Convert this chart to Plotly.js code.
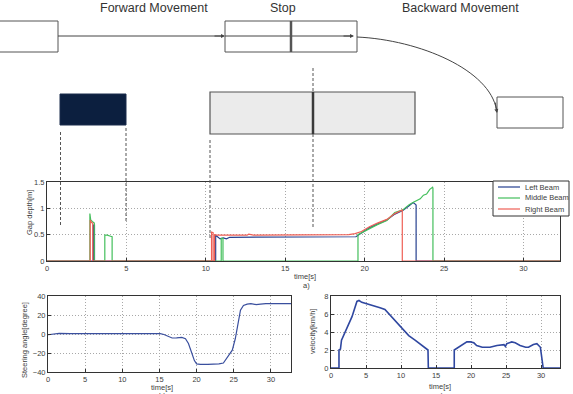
<!DOCTYPE html>
<html>
<head>
<meta charset="utf-8">
<script src="https://cdn.plot.ly/plotly-3.0.1.min.js"></script>
<style>html,body{margin:0;padding:0;background:#fff;}#chart{width:573px;height:394px;}</style>
</head>
<body>
<div id="chart"></div>
<script>
// ---- Data ----
const seriesNames = ["Left Beam", "Middle Beam", "Right Beam"];

const leftT = [0, 2.92, 2.92, 2.99, 2.99, 10.62, 10.62, 10.75, 10.9, 11.1, 11.3, 11.5, 12.5, 15.5, 18.5, 19.45, 19.8, 20.3, 20.8, 21.4, 21.9, 22.4, 22.8, 23.05, 23.22, 23.24, 23.24, 32.3];
const leftY = [0, 0, 0.68, 0.68, 0, 0, 0.49, 0.45, 0.42, 0.44, 0.42, 0.45, 0.45, 0.45, 0.45, 0.46, 0.53, 0.63, 0.70, 0.78, 0.89, 0.96, 1.05, 1.11, 1.07, 1.06, 0, 0];

const midT = [0, 2.70, 2.70, 2.75, 2.85, 2.98, 2.98, 3.64, 3.64, 3.8, 4.0, 4.1, 4.1, 10.97, 10.97, 11.08, 11.08, 19.58, 19.58, 19.9, 20.3, 20.8, 21.4, 21.9, 22.4, 22.8, 23.1, 23.5, 23.7, 23.9, 24.1, 24.28, 24.3, 24.3, 32.3];
const midY = [0, 0, 0.90, 0.78, 0.75, 0.72, 0, 0, 0.49, 0.49, 0.47, 0.46, 0, 0, 0.43, 0.43, 0, 0, 0.50, 0.55, 0.62, 0.69, 0.77, 0.92, 0.97, 1.07, 1.12, 1.18, 1.25, 1.27, 1.36, 1.40, 1.38, 0, 0];

const rightT = [0, 2.72, 2.72, 2.80, 2.88, 2.88, 10.36, 10.36, 10.46, 10.46, 10.55, 10.55, 10.7, 12.6, 12.7, 12.9, 13.0, 19.0, 19.4, 19.8, 20.3, 20.8, 21.4, 21.9, 22.37, 22.37, 32.3];
const rightY = [0, 0, 0.78, 0.73, 0.72, 0, 0, 0.55, 0.54, 0, 0, 0.50, 0.49, 0.49, 0.51, 0.50, 0.49, 0.50, 0.52, 0.56, 0.65, 0.72, 0.79, 0.90, 0.97, 0, 0];

const steerT = [0, 0.7, 1.5, 3, 6, 9, 12, 15.1, 15.6, 16.1, 16.7, 17.3, 18.0, 18.5, 18.9, 19.3, 19.7, 20.0, 20.5, 21.5, 22.3, 23.0, 23.6, 24.2, 24.8, 25.2, 25.5, 25.9, 26.3, 26.8, 27.3, 28.0, 28.6, 29.3, 30.5, 32.7];
const steerY = [-0.8, -0.3, 0.6, 0.5, 0.4, 0.4, 0.4, 0.4, -0.5, -2, -4.2, -4, -3.6, -5, -10, -19, -28, -31.5, -32, -32, -32, -31.5, -30.5, -24, -17, -5, 10, 25, 30, 31.5, 32, 31, 31.5, 32, 32, 32];

const velT = [0, 1.14, 1.14, 1.35, 1.5, 2.2, 3.0, 3.7, 4.0, 4.4, 4.9, 5.3, 6.3, 7.0, 7.7, 8.4, 9.4, 10.1, 11.1, 12.0, 13.0, 13.6, 13.85, 13.9, 17.6, 17.6, 18.0, 18.5, 18.9, 19.4, 19.9, 20.4, 20.8, 21.6, 22.7, 23.7, 24.7, 24.9, 25.1, 25.8, 26.3, 27.0, 27.8, 28.2, 28.9, 29.4, 29.9, 30.0, 30.1, 30.3, 32.7];
const velY = [0, 0, 2.0, 2.1, 3.1, 4.4, 5.7, 7.4, 7.5, 7.3, 7.2, 7.1, 6.9, 6.7, 6.5, 5.9, 5.0, 4.4, 3.6, 3.1, 2.5, 2.2, 2.0, 0, 0, 2.0, 2.2, 2.4, 2.6, 2.9, 2.9, 2.8, 2.5, 2.3, 2.3, 2.5, 2.6, 2.4, 2.7, 2.9, 2.8, 2.5, 2.3, 2.3, 2.6, 2.7, 2.3, 1.8, 0.9, 0, 0];

const phaseLabels = ["Forward Movement", "Stop", "Backward Movement"];
const gapTicks = [0, 0.5, 1, 1.5];

// ---- Layout helpers ----
const W = 573, H = 394;
const X = p => p / W;
const Y = p => 1 - p / H;
const FONT = "Liberation Sans, Arial, sans-serif";
const TXT = "#404040";
const COLORS = ["#26408f", "#44bf5c", "#ef5f55"];

function axis(d0, d1, range, dtick, anchor, extra) {
  return Object.assign({
    domain: [d0, d1], range: range, dtick: dtick, anchor: anchor,
    showline: true, mirror: true, linecolor: "#333", linewidth: 1,
    ticks: "inside", ticklen: 3, tickcolor: "#333",
    showgrid: true, gridcolor: "#a8a8a8", griddash: "1px,2px", gridwidth: 1,
    zeroline: false, fixedrange: true,
    tickfont: {family: FONT, size: 7.5, color: TXT}
  }, extra || {});
}

const traces = [
  {x: leftT, y: leftY, name: seriesNames[0], xaxis: "x", yaxis: "y", mode: "lines", line: {color: COLORS[0], width: 1.2}},
  {x: midT, y: midY, name: seriesNames[1], xaxis: "x", yaxis: "y", mode: "lines", line: {color: COLORS[1], width: 1.2}},
  {x: rightT, y: rightY, name: seriesNames[2], xaxis: "x", yaxis: "y", mode: "lines", line: {color: COLORS[2], width: 1.2}},
  {x: steerT, y: steerY, name: "Steering", xaxis: "x2", yaxis: "y2", mode: "lines", line: {color: "#3a4f9e", width: 1.2}},
  {x: velT, y: velY, name: "Velocity", xaxis: "x3", yaxis: "y3", mode: "lines", line: {color: "#2f47a0", width: 1.6}}
];

const gray = "#555";
function rect(x0, y0, x1, y1, line, fill) {
  return {type: "rect", xref: "paper", yref: "paper", x0: X(x0), x1: X(x1), y0: Y(y1), y1: Y(y0),
          line: line, fillcolor: fill || "rgba(0,0,0,0)", layer: "above"};
}
function seg(x0, y0, x1, y1, line) {
  return {type: "line", xref: "paper", yref: "paper", x0: X(x0), x1: X(x1), y0: Y(y0), y1: Y(y1), line: line, layer: "above"};
}
const dashed = {color: "#555", width: 1, dash: "3px,2px"};

const shapes = [
  rect(-2, 21, 58, 52, {color: gray, width: 1}, "#fff"),
  seg(58, 36, 222, 36, {color: "#444", width: 1}),
  rect(225, 21, 357, 52, {color: gray, width: 1}, "#fff"),
  seg(225, 36, 350, 36, {color: "#444", width: 1}),
  seg(291, 21, 291, 52, {color: "#555", width: 2.5}),
  {type: "path", xref: "paper", yref: "paper", layer: "above",
   path: `M ${X(357)},${Y(37)} C ${X(420)},${Y(40)} ${X(490)},${Y(70)} ${X(496.5)},${Y(110)}`,
   line: {color: "#444", width: 1}},
  rect(497, 97, 563, 128, {color: gray, width: 1}, "#fff"),
  rect(60, 94, 126, 125, {color: "#1a2c4c", width: 1}, "#0c1f3f"),
  rect(210, 92, 415, 134, {color: "#555", width: 1.2}, "#ebebeb"),
  seg(313, 92, 313, 134, {color: "#3a3a3a", width: 2.5}),
  seg(313, 68, 313, 92, dashed),
  seg(313, 134, 313, 228, dashed),
  seg(60.5, 132, 60.5, 225, dashed),
  seg(126, 128, 126, 222, dashed),
  seg(210, 140, 210, 240, dashed),
  // legend box
  rect(493, 181, 569, 216, {color: "#333", width: 1}, "#fff"),
  seg(498, 187, 520, 187, {color: COLORS[0], width: 1.2}),
  seg(498, 198, 520, 198, {color: COLORS[1], width: 1.2}),
  seg(498, 209, 520, 209, {color: COLORS[2], width: 1.2})
];

function txt(s, x, y, size, extra) {
  return Object.assign({text: s, x: X(x), y: Y(y), xref: "paper", yref: "paper", showarrow: false,
    xanchor: "center", yanchor: "middle", font: {family: FONT, size: size, color: TXT}}, extra || {});
}
function arrow(x, y, ax, ay) {
  return {text: "", x: X(x), y: Y(y), xref: "paper", yref: "paper", showarrow: true, ax: ax, ay: ay,
          arrowhead: 2, arrowsize: 0.8, arrowwidth: 1, arrowcolor: "#444", standoff: 0};
}

const annotations = [
  txt(phaseLabels[0], 154, 8, 12.5, {font: {family: FONT, size: 12.5, color: "#333"}}),
  txt(phaseLabels[1], 283, 8, 12.5, {font: {family: FONT, size: 12.5, color: "#333"}}),
  txt(phaseLabels[2], 460, 8, 12.5, {font: {family: FONT, size: 12.5, color: "#333"}}),
  arrow(225, 36, -12, 0),
  arrow(354, 36, -12, 0),
  arrow(497, 113, -2, -12),
  txt("Gap depth[m]", 29, 213, 7.5, {textangle: -90}),
  txt("time[s]", 305, 276, 7.5),
  txt("a)", 306, 285, 7.5),
  txt("Steering angle[degree]", 24, 340, 7.5, {textangle: -90}),
  txt("time[s]", 162, 387.5, 7.5, {borderpad: 0}),
  txt("b)", 162, 395.5, 7.5, {borderpad: 0}),
  txt("velocity[km/h]", 312, 332, 7.5, {textangle: -90}),
  txt("time[s]", 440, 386.5, 7.5, {borderpad: 0}),
  txt("c)", 440, 395, 7.5, {borderpad: 0}),
  txt(seriesNames[0], 523, 187, 7.5, {xanchor: "left"}),
  txt(seriesNames[1], 523, 198, 7.5, {xanchor: "left"}),
  txt(seriesNames[2], 523, 209, 7.5, {xanchor: "left"})
];

const layout = {
  width: W, height: H,
  margin: {l: 0, r: 0, t: 0, b: 0, pad: 0},
  paper_bgcolor: "#fff", plot_bgcolor: "#fff",
  showlegend: false,
  font: {family: FONT, size: 7.5, color: TXT},
  xaxis: axis(X(47), X(560), [0, 32.3], 5, "y"),
  yaxis: axis(Y(261), Y(182), [0, 1.5], 0.5, "x", {tickvals: gapTicks, ticktext: gapTicks.map(String)}),
  xaxis2: axis(X(48), X(291), [0, 32.7], 5, "y2"),
  yaxis2: axis(Y(372), Y(296), [-40, 40], 20, "x2"),
  xaxis3: axis(X(331), X(560), [0, 32.7], 5, "y3"),
  yaxis3: axis(Y(368), Y(296), [0, 8], 2, "x3"),
  shapes: shapes,
  annotations: annotations
};

Plotly.newPlot("chart", traces, layout, {staticPlot: true, displayModeBar: false});
</script>
</body>
</html>
